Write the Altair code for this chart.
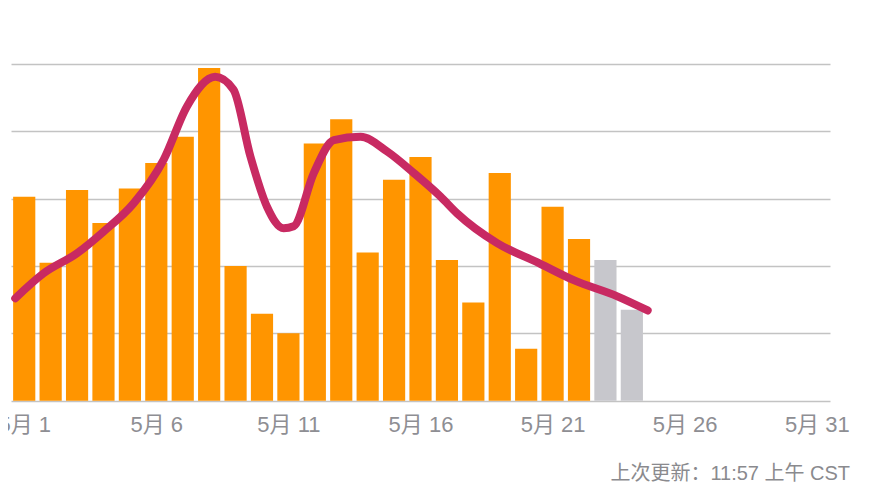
import altair as alt
import pandas as pd

# Daily bars (May 1 .. May 24)
days = list(range(1, 25))
values = [30.3, 20.5, 31.3, 26.4, 31.5, 35.3, 39.2, 49.4, 20.0, 12.9,
          10.0, 38.2, 41.8, 22.0, 32.8, 36.2, 20.9, 14.6, 33.8, 7.7,
          28.8, 24.0, 20.9, 13.5]
status = ["final"] * 22 + ["pending"] * 2

# Smoothed trend line
line_day = [0.66, 1.73, 3.0, 4.0, 5.14, 6.28, 7.16, 8.23, 8.92, 9.56, 10.19,
            10.82, 11.2, 11.96, 12.72, 13.73, 14.74, 15.75, 16.76, 17.39,
            18.9, 20.5, 21.8, 23.45, 24.6]
line_value = [15.2, 18.9, 21.9, 25.1, 29.3, 35.8, 43.7, 48.1, 46.2, 36.3, 28.8,
              25.6, 25.9, 33.8, 38.7, 39.2, 37.0, 33.8, 30.3, 27.8,
              23.4, 20.4, 17.9, 15.5, 13.4]

tick_days = [1, 6, 11, 16, 21, 26, 31]
grid_values = [0, 10, 20, 30, 40, 50]
footer = "上次更新：11:57 上午 CST"

FONT = "Liberation Sans, Noto Sans CJK SC"

bars_df = pd.DataFrame({"day": days, "value": values, "status": status})
bars_df["day0"] = bars_df["day"] - 0.42
bars_df["day1"] = bars_df["day"] + 0.42
bars_df["base"] = 0
line_df = pd.DataFrame({"day": line_day, "value": line_value})

x_scale = alt.Scale(domain=[0.5, 31.5], nice=False, zero=False)
y_scale = alt.Scale(domain=[0, 50], nice=False)

x_axis = alt.Axis(values=tick_days, labelExpr="'5月 ' + datum.value",
                  grid=False, ticks=False, domain=False, title=None,
                  labelFont=FONT, labelFontSize=22, labelColor="#8e8e93",
                  labelPadding=14, labelFlush=False)
y_axis = alt.Axis(values=grid_values, labels=False, ticks=False, domain=False,
                  title=None, grid=True, gridColor="#c3c3c3", gridWidth=1.5)

bars = alt.Chart(bars_df).mark_rect().encode(
    x=alt.X("day0:Q", scale=x_scale, axis=x_axis),
    x2="day1:Q",
    y=alt.Y("value:Q", scale=y_scale, axis=y_axis),
    y2="base:Q",
    color=alt.Color("status:N",
                    scale=alt.Scale(domain=["final", "pending"],
                                    range=["#ff9500", "#c7c7cc"]),
                    legend=None),
)

line = alt.Chart(line_df).mark_line(
    color="#c82a62", strokeWidth=8, interpolate="monotone",
    strokeCap="round", strokeJoin="round"
).encode(
    x=alt.X("day:Q", scale=x_scale),
    y=alt.Y("value:Q", scale=y_scale),
)

foot = alt.Chart(pd.DataFrame({"t": [footer]})).mark_text(
    align="right", baseline="middle", font=FONT, fontSize=20, color="#8a8a8e"
).encode(text="t:N", x=alt.value(839), y=alt.value(410))

chart = alt.layer(bars, line, foot).properties(
    width=819, height=336.7,
    background="white",
    autosize=alt.AutoSizeParams(type="none"),
    padding={"left": 3, "top": 56, "right": 40, "bottom": 85},
).configure_view(stroke=None)

chart.save("out.html", embed_options={"renderer": "svg", "actions": False})
